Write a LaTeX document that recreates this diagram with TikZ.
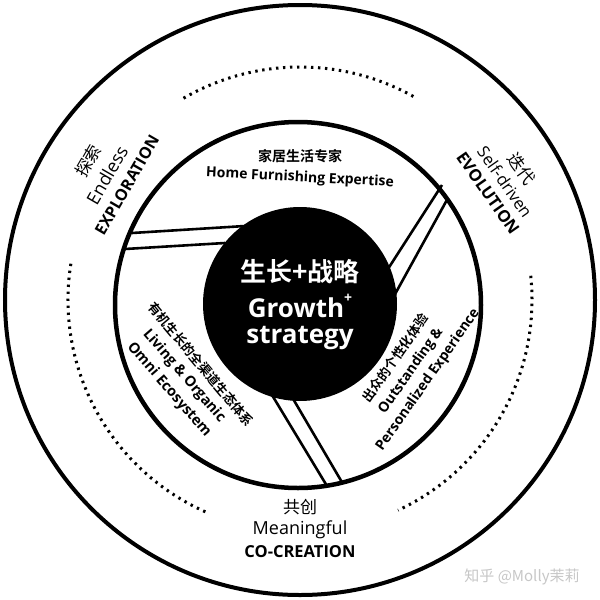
\documentclass[tikz,border=0pt]{standalone}
\usepackage{fontspec}
\setmainfont{Open Sans}
\newfontfamily\cjk{Noto Sans CJK SC}
\newfontfamily\cjkb{Noto Sans CJK SC Bold}
\begin{document}
\begin{tikzpicture}[x=1pt,y=-1pt,
  ring/.style={line width=4pt},
  blade/.style={line width=2.6pt},
  dotring/.style={line width=3pt, dash pattern=on 2.4pt off 4.6pt},
  lbl/.style={align=center, inner sep=0pt},
]
\useasboundingbox (0,0) rectangle (600,600);
\fill[white] (0,0) rectangle (600,600);
% outer circle
\draw[ring] (300,300) circle[radius=295];
% inner ring
\draw[ring, line width=4.5pt] (298,305) circle[radius=183];
% dotted arcs
\draw[dotring] (300,300) ++(-120:233) arc[start angle=-120, end angle=-60, radius=233];
\draw[dotring] (300,300) ++(-171:232) arc[start angle=-171, end angle=-247, radius=232];
\draw[dotring] (300,300) ++(-6:232) arc[start angle=-6, end angle=65, radius=232];
% blades
\draw[blade] (132,233) -- (245,226);
\draw[blade] (125,249) -- (225,243);
\draw[blade] (442,185) -- (386,272);
\draw[blade] (448,198) -- (394,296);
\draw[blade] (272,395) -- (327,486);
\draw[blade] (292,397) -- (343,484);
% black centre
\fill (300,304) circle[radius=97];
\node[lbl, white] (c1) at (300,272) {\cjkb\fontsize{26}{26}\selectfont 生长+战略};
\node[lbl, white] (c2) at (300,306) {\bfseries\fontsize{26}{26}\selectfont Growth\raisebox{0.55em}{\fontsize{14}{14}\selectfont +}};
\node[lbl, white] (c3) at (300,338) {\bfseries\fontsize{26}{26}\selectfont strategy};
% top sector
\node[lbl] (t1) at (300,156) {\cjkb\fontsize{14}{14}\selectfont 家居生活专家};
\node[lbl, rotate=-3] (t2) at (300,178) {\bfseries\fontsize{14}{14}\selectfont Home Furnishing Expertise};
% left sector
\node[lbl, rotate=-50] (l1) at (201,364) {\cjkb\fontsize{13}{13}\selectfont 有机生长的全渠道生态体系};
\node[lbl, rotate=-49] (l2) at (184,376) {\bfseries\fontsize{14.5}{14.5}\selectfont Living \& Organic};
\node[lbl, rotate=-49] (l3) at (169,390) {\bfseries\fontsize{14.5}{14.5}\selectfont Omni Ecosystem};
% right sector
\node[lbl, rotate=55] (r1) at (395,358) {\cjkb\fontsize{13}{13}\selectfont 出众的个性化体验};
\node[lbl, rotate=55] (r2) at (411,371) {\bfseries\fontsize{14}{14}\selectfont Outstanding \&};
\node[lbl, rotate=55] (r3) at (428,380) {\bfseries\fontsize{14}{14}\selectfont Personalized Experience};
% outer labels
\node[lbl, rotate=60] (a1) at (88,161) {\cjk\fontsize{17}{17}\selectfont 探索};
\node[lbl, rotate=60] (a2) at (107,175) {\fontsize{18}{18}\selectfont Endless};
\node[lbl, rotate=60] (a3) at (127,185) {\bfseries\fontsize{16}{16}\selectfont EXPLORATION};
\node[lbl, rotate=-55] (b1) at (522,169) {\cjk\fontsize{17}{17}\selectfont 迭代};
\node[lbl, rotate=-55] (b2) at (505,182) {\fontsize{16.5}{16.5}\selectfont Self-driven};
\node[lbl, rotate=-55] (b3) at (488,193) {\bfseries\fontsize{16.5}{16.5}\selectfont EVOLUTION};
\node[lbl] (d1) at (300,507) {\cjk\fontsize{17}{17}\selectfont 共创};
\node[lbl] (d2) at (300,530) {\fontsize{18}{18}\selectfont Meaningful};
\node[lbl] (d3) at (300,552) {\bfseries\fontsize{16.5}{16.5}\selectfont CO-CREATION};
% watermark
\node[lbl, text=black!22] (w) at (522,577) {\cjk\fontsize{15}{15}\selectfont 知乎 @Molly茉莉};
\end{tikzpicture}
\end{document}
